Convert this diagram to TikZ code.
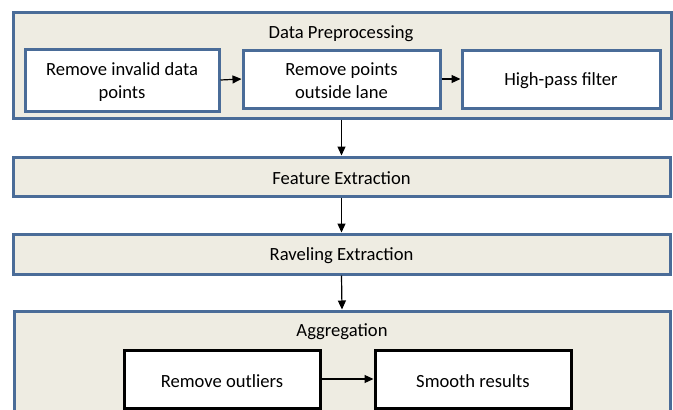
\documentclass[tikz,border=0pt]{standalone}
\usepackage{fontspec}
\setmainfont{Carlito}
\usetikzlibrary{arrows.meta}
\definecolor{frameblue}{RGB}{74,108,152}
\definecolor{panelbg}{RGB}{238,236,226}
\tikzset{
  panel/.style={draw=frameblue, line width=3pt, fill=panelbg, rectangle, inner sep=0pt, anchor=center},
  bluebox/.style={draw=frameblue, line width=3pt, fill=white, rectangle, inner sep=0pt, anchor=center},
  blackbox/.style={draw=black, line width=3pt, fill=white, rectangle, inner sep=0pt, anchor=center},
  txt/.style={label={[inner sep=0pt, align=center, yshift=-1.8pt]center:#1}},
  lbl/.style={inner sep=0pt, anchor=center, yshift=-1.8pt},
  flow/.style={draw=black, line width=1.2pt, -{Triangle[length=9pt,width=8pt]}},
}
\begin{document}
\begin{tikzpicture}[x=1pt,y=-1pt, font=\fontsize{18.6}{23}\selectfont]
\useasboundingbox (0,0) rectangle (673,410);
\clip (0,0) rectangle (673,410);
% Data preprocessing panel
\node[panel, minimum width=658pt, minimum height=106pt] (pre) at (342,65) {};
\node[lbl] (pretitle) at (341,32) {Data Preprocessing};
\node[bluebox, minimum width=194pt, minimum height=62pt, txt={Remove invalid data\\points}] (b1) at (122,80) {};
\node[bluebox, minimum width=197pt, minimum height=58pt, txt={Remove points\\outside lane}] (b2) at (341.5,79) {};
\node[bluebox, minimum width=198pt, minimum height=58pt, txt={High-pass filter}] (b3) at (561,79) {};
% Feature and raveling
\node[panel, minimum width=657pt, minimum height=39pt, txt={Feature Extraction}] (feat) at (341.5,176.5) {};
\node[panel, minimum width=657pt, minimum height=40pt, txt={Raveling Extraction}] (rav) at (341.5,254) {};
% Aggregation panel
\node[panel, minimum width=656pt, minimum height=130pt] (agg) at (342,376) {};
\node[lbl] (aggtitle) at (342,330) {Aggregation};
\node[blackbox, minimum width=196pt, minimum height=58pt, txt={Remove outliers}] (out) at (222,379) {};
\node[blackbox, minimum width=196pt, minimum height=58pt, txt={Smooth results}] (smo) at (473,379) {};
% connectors
\draw[flow] (b1.east) -- (b2.west);
\draw[flow] (b2.east) -- (b3.west);
\draw[flow] (pre.south -| feat.north) -- (feat.north);
\draw[flow] (feat.south) -- (rav.north);
\draw[flow] (rav.south) -- (agg.north);
\draw[flow] (out.east) -- (smo.west);
\end{tikzpicture}
\end{document}
